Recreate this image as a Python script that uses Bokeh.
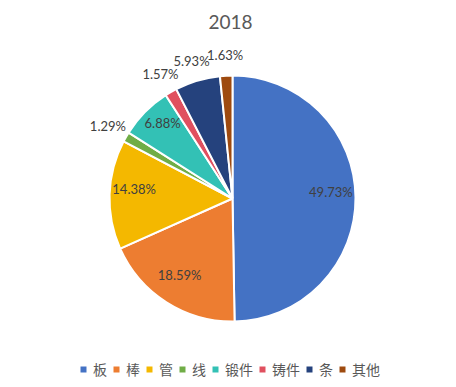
import math
from bokeh.plotting import figure
from bokeh.models import Range1d, ColumnDataSource, Legend, LegendItem, Label
from bokeh.core.properties import value
from bokeh.embed import file_html
from bokeh.resources import INLINE

title_text = "2018"
categories = ["板", "棒", "管", "线", "锻件", "铸件", "条", "其他"]
shares = [49.73, 18.59, 14.38, 1.29, 6.88, 1.57, 5.93, 1.63]
colors = ["#4472C4", "#ED7D31", "#F4B800", "#70AD47", "#33C1B5", "#E0505F", "#25427D", "#9E4A0F"]

W, H = 440, 379
p = figure(width=W, height=H, output_backend="svg", toolbar_location=None,
           x_range=Range1d(0, W), y_range=Range1d(387 - H, 387),
           min_border=0, outline_line_color=None)
p.axis.visible = False
p.grid.visible = False
p.background_fill_color = "white"
p.border_fill_color = "white"

cx, cy, R = 232, 189, 123
total = sum(shares)
cum = 0.0
items = []
in_x, in_y, in_t = [], [], []
out_x, out_y, out_t = [], [], []
for cat, v, c in zip(categories, shares, colors):
    f0 = cum / total
    cum += v
    f1 = cum / total
    start = math.pi / 2 - f1 * 2 * math.pi
    end = math.pi / 2 - f0 * 2 * math.pi
    src = ColumnDataSource(dict(x=[cx], y=[cy], s=[start], e=[end]))
    r = p.wedge(x="x", y="y", radius=R, start_angle="s", end_angle="e", source=src,
                fill_color=c, line_color="white", line_width=2)
    items.append(LegendItem(label=cat, renderers=[r]))
    mid = (f0 + f1) / 2 * 2 * math.pi
    if v >= 6.5:
        rr = R * 0.80
        in_x.append(cx + rr * math.sin(mid))
        in_y.append(cy + rr * math.cos(mid))
        in_t.append(f"{v:.2f}%")
    else:
        rr = R * 1.17
        out_x.append(cx + rr * math.sin(mid))
        out_y.append(cy + rr * math.cos(mid))
        out_t.append(f"{v:.2f}%")

p.text(x=in_x, y=in_y, text=in_t, text_align="center", text_baseline="middle", y_offset=-6,
       text_font=value("Lato"), text_font_size="13px", text_color="#404040")
p.text(x=out_x, y=out_y, text=out_t, text_align="center", text_baseline="middle",
       text_font=value("Lato"), text_font_size="13px", text_color="#404040")

p.add_layout(Label(x=230, y=H - 21, x_units="screen", y_units="screen", text=title_text,
                   text_align="center", text_baseline="middle", text_font="Lato",
                   text_font_size="19px", text_color="#595959"))

legend = Legend(items=items, orientation="horizontal", location=(78, 0),
                glyph_width=10, glyph_height=10, label_standoff=5, spacing=4,
                padding=0, margin=0, label_height=16, label_width=0, border_line_color=None,
                background_fill_alpha=0,
                label_text_font="Noto Sans CJK SC", label_text_font_size="14px",
                label_text_color="#595959")
p.add_layout(legend, "center")

open("out.html", "w").write(file_html(p, INLINE))
